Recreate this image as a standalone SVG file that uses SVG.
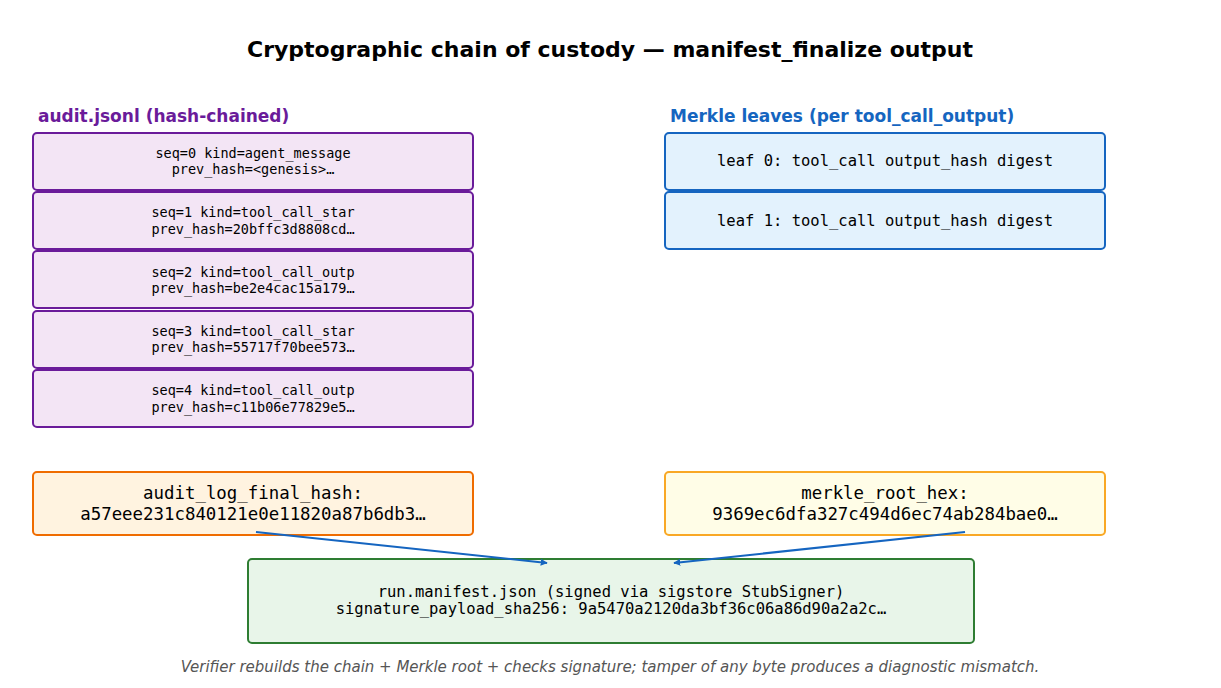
<svg xmlns="http://www.w3.org/2000/svg" width="1221" height="688" viewBox="0 0 1221 688">
<style>
.m{font-family:"DejaVu Sans Mono","Liberation Mono",monospace;text-anchor:middle;fill:#000}
.a{fill:#f3e5f5;stroke:#6a1b9a;stroke-width:2}
.l{fill:#e3f2fd;stroke:#1565c0;stroke-width:2}
.h{font-family:"DejaVu Sans",sans-serif;font-weight:bold;font-size:17px}
</style>
<defs><marker id="ar" viewBox="0 0 10 10" refX="9" refY="5" markerWidth="7" markerHeight="7" orient="auto" markerUnits="userSpaceOnUse" ><path d="M0,0 L10,5 L0,10 z" fill="#1565c0"/></marker></defs>
<rect width="1221" height="688" fill="#fff"/>
<text x="610" y="57" text-anchor="middle" font-family="DejaVu Sans,sans-serif" font-weight="bold" font-size="22">Cryptographic chain of custody — manifest_finalize output</text>
<text x="38" y="122" class="h" fill="#6a1b9a">audit.jsonl (hash-chained)</text>
<text x="670" y="122" class="h" fill="#1565c0">Merkle leaves (per tool_call_output)</text>
<g id="a0"><rect class="a" x="33" y="133" width="440" height="57" rx="4"/><text class="m" font-size="13.5" x="253" y="158">seq=0 kind=agent_message</text><text class="m" font-size="13.5" x="253" y="174">prev_hash=&lt;genesis&gt;…</text></g>
<g id="a1"><rect class="a" x="33" y="192" width="440" height="57" rx="4"/><text class="m" font-size="13.5" x="253" y="217">seq=1 kind=tool_call_star</text><text class="m" font-size="13.5" x="253" y="234">prev_hash=20bffc3d8808cd…</text></g>
<g id="a2"><rect class="a" x="33" y="251" width="440" height="57" rx="4"/><text class="m" font-size="13.5" x="253" y="277">seq=2 kind=tool_call_outp</text><text class="m" font-size="13.5" x="253" y="293">prev_hash=be2e4cac15a179…</text></g>
<g id="a3"><rect class="a" x="33" y="311" width="440" height="57" rx="4"/><text class="m" font-size="13.5" x="253" y="336">seq=3 kind=tool_call_star</text><text class="m" font-size="13.5" x="253" y="352">prev_hash=55717f70bee573…</text></g>
<g id="a4"><rect class="a" x="33" y="370" width="440" height="57" rx="4"/><text class="m" font-size="13.5" x="253" y="395">seq=4 kind=tool_call_outp</text><text class="m" font-size="13.5" x="253" y="412">prev_hash=c11b06e77829e5…</text></g>
<g id="l0"><rect class="l" x="665" y="133" width="440" height="57" rx="4"/><text class="m" font-size="15.5" x="885" y="166">leaf 0: tool_call output_hash digest</text></g>
<g id="l1"><rect class="l" x="665" y="192" width="440" height="57" rx="4"/><text class="m" font-size="15.5" x="885" y="226">leaf 1: tool_call output_hash digest</text></g>
<g id="fh"><rect x="33" y="472" width="440" height="63" rx="4" fill="#fff3e0" stroke="#ef6c00" stroke-width="2"/><text class="m" font-size="17.4" x="253" y="499">audit_log_final_hash:</text><text class="m" font-size="17.4" x="253" y="520">a57eee231c840121e0e11820a87b6db3…</text></g>
<g id="mr"><rect x="665" y="472" width="440" height="63" rx="4" fill="#fffde7" stroke="#f9a825" stroke-width="2"/><text class="m" font-size="17.4" x="885" y="499">merkle_root_hex:</text><text class="m" font-size="17.4" x="885" y="520">9369ec6dfa327c494d6ec74ab284bae0…</text></g>
<g id="mf"><rect x="248" y="559" width="726" height="84" rx="4" fill="#e8f5e9" stroke="#2e7d32" stroke-width="2"/><text class="m" font-size="15.5" x="611" y="597">run.manifest.json (signed via sigstore StubSigner)</text><text class="m" font-size="15.5" x="611" y="614">signature_payload_sha256: 9a5470a2120da3bf36c06a86d90a2a2c…</text></g>
<g id="connectors" stroke="#1565c0" stroke-width="2" fill="none">
<line x1="256" y1="532" x2="547" y2="563" marker-end="url(#ar)"/>
<line x1="965" y1="532" x2="674" y2="563" marker-end="url(#ar)"/>
</g>
<text x="610" y="672" text-anchor="middle" font-family="DejaVu Sans,sans-serif" font-style="italic" font-size="15" fill="#555">Verifier rebuilds the chain + Merkle root + checks signature; tamper of any byte produces a diagnostic mismatch.</text>
</svg>
